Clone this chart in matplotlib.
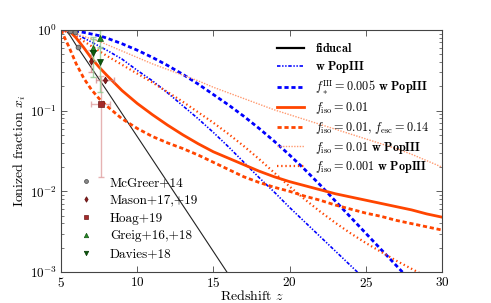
import numpy as np
import matplotlib
matplotlib.use("Agg")
import matplotlib.pyplot as plt

plt.rcParams['font.family'] = 'serif'
plt.rcParams['font.serif'] = ['cmr10', 'DejaVu Serif']
plt.rcParams['mathtext.fontset'] = 'cm'
plt.rcParams['axes.formatter.use_mathtext'] = True
plt.rcParams['axes.unicode_minus'] = False
plt.rcParams['lines.scale_dashes'] = False

z_fid = [5, 5.3, 5.6, 6, 7, 8, 10, 12, 14, 16.2]
logx_fid = [0, 0, -0.07, -0.19, -0.47, -0.75, -1.32, -1.89, -2.46, -3.09]

z_pop3 = [5, 5.5, 6, 6.5, 7, 7.5, 8, 9, 10, 11, 12, 13, 14, 15, 16, 17, 18, 19, 20, 21, 22, 23, 24, 25]
logx_pop3 = [0, -0.02, -0.05, -0.1, -0.15, -0.2, -0.25, -0.36, -0.50, -0.63, -0.78, -0.94, -1.10, -1.27,
             -1.45, -1.64, -1.83, -2.01, -2.20, -2.38, -2.56, -2.74, -2.92, -3.1]

z_fstar = [5, 5.5, 6, 6.5, 7, 7.5, 8, 9, 10, 11, 12, 13, 14, 15, 16, 17, 18, 19, 20, 21, 22, 23, 24, 25, 26, 27, 28]
logx_fstar = [0, -0.005, -0.015, -0.03, -0.05, -0.07, -0.1, -0.17, -0.25, -0.34, -0.44, -0.55, -0.67, -0.80,
              -0.93, -1.07, -1.22, -1.38, -1.55, -1.73, -1.92, -2.12, -2.32, -2.52, -2.72, -2.92, -3.12]

z_full = [5, 5.5, 6, 6.5, 7, 7.5, 8, 9, 10, 11, 12, 13, 14, 15, 16, 17, 18, 19, 20, 21, 22, 23, 24, 25, 26, 27, 28, 29, 30]
logx_iso = [0, 0, -0.1, -0.22, -0.35, -0.46, -0.56, -0.75, -0.91, -1.05, -1.18, -1.30, -1.41, -1.51, -1.59,
            -1.67, -1.75, -1.82, -1.88, -1.93, -1.98, -2.03, -2.07, -2.11, -2.15, -2.19, -2.23, -2.28, -2.32]
logx_iso_esc = [0, -0.2, -0.42, -0.6, -0.74, -0.85, -0.94, -1.1, -1.22, -1.32, -1.40, -1.47, -1.55, -1.64, -1.73,
                -1.82, -1.89, -1.95, -2.0, -2.06, -2.11, -2.17, -2.22, -2.27, -2.31, -2.36, -2.40, -2.44, -2.48]
logx_iso_pop3 = [0, -0.02, -0.05, -0.08, -0.11, -0.14, -0.18, -0.26, -0.34, -0.42, -0.49, -0.56, -0.63, -0.71,
                 -0.78, -0.85, -0.92, -0.99, -1.05, -1.11, -1.17, -1.23, -1.29, -1.35, -1.41, -1.47, -1.54, -1.62, -1.70]

z_iso001 = [5, 5.5, 6, 6.5, 7, 7.5, 8, 9, 10, 11, 12, 13, 14, 15, 16, 17, 18, 19, 20, 21, 22, 23, 24, 25, 26, 27, 28, 29]
logx_iso001 = [0, -0.03, -0.08, -0.14, -0.2, -0.26, -0.32, -0.43, -0.54, -0.65, -0.77, -0.89, -1.02, -1.15,
               -1.29, -1.44, -1.60, -1.77, -1.94, -2.10, -2.25, -2.39, -2.52, -2.64, -2.75, -2.86, -2.96, -3.06]

# Beobachtungen
mcgreer_z = [5.6, 5.9, 6.1]
mcgreer_x = [0.96, 0.94, 0.62]

mason_z = [7.0, 7.9]
mason_x = [0.41, 0.24]
mason_xerr_lo = [0.11, 0.0]
mason_xerr_hi = [0.15, 0.0]
mason_zerr = [0.0, 0.6]

hoag_z = [7.6]
hoag_x = [0.12]
hoag_xerr_lo = [0.105]
hoag_xerr_hi = [0.15]
hoag_zerr = [0.6]

greig_z = [7.1, 7.54]
greig_x = [0.60, 0.79]
greig_xerr_lo = [0.19, 0.18]
greig_xerr_hi = [0.21, 0.21]

davies_z = [7.09, 7.54]
davies_x = [0.52, 0.40]
davies_xerr_lo = [0.26, 0.23]
davies_xerr_hi = [0.26, 0.20]

orange = '#ff4500'
salmon = '#ff9a70'
blue = '#0000ff'

fig = plt.figure(figsize=(4.91, 3.03), dpi=100)
ax = fig.add_axes([0.1242, 0.1023, 0.7760, 0.7987])

def lin(v):
    return 10 ** np.array(v)

ax.plot(z_fid, lin(logx_fid), color='#222222', lw=0.8, label=r'$\mathbf{fiducal}$')
ax.plot(z_pop3, lin(logx_pop3), color=blue, lw=1.2, ls=(0, (2.5, 1.2, 1, 1.2, 1, 1.2)),
        label=r'$\mathbf{w\ PopIII}$')
ax.plot(z_fstar, lin(logx_fstar), color=blue, lw=2.0, ls=(0, (3, 2)),
        label=r'$f_*^{\rm III}=0.005$ $\mathbf{w\ PopIII}$')
ax.plot(z_full, lin(logx_iso), color=orange, lw=2.0, label=r'$f_{\rm iso}=0.01$')
ax.plot(z_full, lin(logx_iso_esc), color=orange, lw=2.0, ls=(0, (3, 2)),
        label=r'$f_{\rm iso}=0.01$, $f_{\rm esc}=0.14$')
ax.plot(z_full, lin(logx_iso_pop3), color=salmon, lw=1.0, ls=(0, (1, 1)),
        label=r'$f_{\rm iso}=0.01$ $\mathbf{w\ PopIII}$')
ax.plot(z_iso001, lin(logx_iso001), color=orange, lw=1.6, ls=(0, (1, 2)),
        label=r'$f_{\rm iso}=0.001$ $\mathbf{w\ PopIII}$')

leg1 = ax.legend(loc='upper right', frameon=False, fontsize=8.8, labelspacing=0.3,
                 handlelength=2.2, handletextpad=0.9, borderaxespad=0.6)
leg1.get_lines()[0].set_linewidth(1.6)
leg1.get_lines()[0].set_color('black')
ax.add_artist(leg1)

# Fehlerbalken
ax.errorbar(mason_z, mason_x, yerr=[mason_xerr_lo, mason_xerr_hi], xerr=mason_zerr,
            fmt='none', ecolor='#d08080', alpha=0.7, lw=1, capsize=2)
ax.errorbar(hoag_z, hoag_x, yerr=[hoag_xerr_lo, hoag_xerr_hi], xerr=hoag_zerr,
            fmt='none', ecolor='#e0a0a0', alpha=0.8, lw=1, capsize=2)
ax.errorbar(greig_z, greig_x, yerr=[greig_xerr_lo, greig_xerr_hi],
            fmt='none', ecolor='#90c890', alpha=0.8, lw=1, capsize=2)
ax.errorbar(davies_z, davies_x, yerr=[davies_xerr_lo, davies_xerr_hi],
            fmt='none', ecolor='#90c890', alpha=0.8, lw=1, capsize=2)

ax.plot(mcgreer_z, mcgreer_x, 'o', color='#888888', mec='#444444', mew=0.5, ms=3.5, label='McGreer+14')
ax.plot(mason_z, mason_x, 'd', color='#8b1a1a', mec='#5a1010', mew=0.5, ms=3.5, label='Mason+17,+19')
ax.plot(hoag_z, hoag_x, 's', color='#a52a2a', mec='#6b1a1a', mew=0.5, ms=4, label='Hoag+19')
ax.plot(greig_z, greig_x, '^', color='#228b22', mec='#145214', mew=0.5, ms=4, label='Greig+16,+18')
ax.plot(davies_z, davies_x, 'v', color='#0b5a0b', mec='#063806', mew=0.5, ms=4, label='Davies+18')

h, l = ax.get_legend_handles_labels()
leg2 = ax.legend(h[7:], l[7:], loc='lower left', frameon=False, fontsize=9.5,
                 labelspacing=0.42, numpoints=1, markerscale=0.8,
                 handlelength=2.0, handletextpad=0.8, borderaxespad=0.5)

ax.set_yscale('log')
ax.set_xlim(5, 30)
ax.set_ylim(1e-3, 1)
ax.set_xticks([5, 10, 15, 20, 25, 30])
ax.set_xlabel(r'Redshift $z$', fontsize=10, labelpad=-1)
ax.set_ylabel(r'Ionized fraction $x_i$', fontsize=10, labelpad=1)

ax.tick_params(which='both', direction='in', top=True, right=True, labelsize=9.5, color='#444444', pad=3)
ax.tick_params(which='major', length=4, width=0.6)
ax.tick_params(which='minor', length=2, width=0.5)
for s in ax.spines.values():
    s.set_color('#444444')
    s.set_linewidth(0.8)

fig.savefig('out.png', dpi=100)
